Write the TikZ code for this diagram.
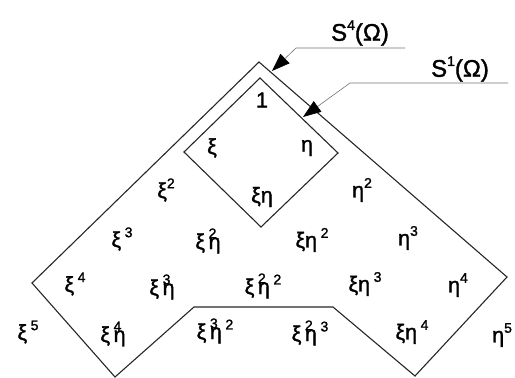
\documentclass[tikz,border=0pt]{standalone}
\usepackage{fontspec}
\setmainfont[FakeBold=1.2]{Liberation Sans}
\newfontfamily\lblfont[FakeBold=1.5]{Liberation Sans}
\usetikzlibrary{arrows.meta}
\newcommand\ssup[1]{\raisebox{0.85ex}{\fontsize{14}{14}\selectfont #1}}
\newcommand\osup[1]{\rlap{\raisebox{0.95ex}{\fontsize{14}{14}\selectfont #1}}}
\begin{document}
\begin{tikzpicture}[x=1pt,y=-1pt,
  lbl/.style={inner sep=0pt, font=\lblfont\fontsize{21.5}{21.5}\selectfont},
  slbl/.style={inner sep=0pt, font=\lblfont\fontsize{24}{24}\selectfont},
  outline/.style={line width=1.1pt, draw=black!85, line join=miter},
  leader/.style={line width=0.6pt, draw=black!55},
  tip/.style={-{Triangle[length=18pt,width=13pt,color=black]}}]
\useasboundingbox (0,0) rectangle (515,378);
% outer region S^4
\draw[outline] (259,62) -- (32,283) -- (115,377) -- (194,307) -- (333,307) -- (415,376) -- (507,277) -- cycle;
% inner diamond S^1
\draw[outline] (260,78) -- (184,152) -- (261,227) -- (338,153) -- cycle;
% leaders
\coordinate (a4) at (405,48);
\coordinate (b4) at (296,48);
\coordinate (t4) at (272,71);
\draw[leader,tip] (a4) -- (b4) -- (t4);
\coordinate (a1) at (508,83);
\coordinate (b1) at (350,83);
\coordinate (t1) at (303,117);
\draw[leader,tip] (a1) -- (b1) -- (t1);
\node[slbl] (s4) at (360,33) {S\ssup{4}(Ω)};
\node[slbl] (s1) at (460,69) {S\ssup{1}(Ω)};
% monomials
\node[lbl] (m1) at (262,100) {1};
\node[lbl] (mx) at (212,148) {ξ};
\node[lbl] (my) at (307,148) {η};
\node[lbl] (mxy) at (262,197) {ξη};
\node[lbl] (mx2) at (166,190) {ξ\ssup{2}};
\node[lbl] (my2) at (362,190) {η\ssup{2}};
\node[lbl] (mx3) at (122,239) {ξ\,\ssup{3}};
\node[lbl] (mx2y) at (208,241) {ξ\,\osup{2}η};
\node[lbl] (mxy2) at (312,240) {ξη\,\ssup{2}};
\node[lbl] (my3) at (408,238) {η\ssup{3}};
\node[lbl] (mx4) at (75,284) {ξ\,\ssup{4}};
\node[lbl] (mx3y) at (162,287) {ξ\,\osup{3}η};
\node[lbl] (mx2y2) at (263,286) {ξ\,\osup{2}η\,\ssup{2}};
\node[lbl] (mxy3) at (365,284) {ξη\,\ssup{3}};
\node[lbl] (my4) at (458,285) {η\ssup{4}};
\node[lbl] (mx5) at (28,332) {ξ\,\ssup{5}};
\node[lbl] (mx4y) at (113,334) {ξ\,\osup{4}η};
\node[lbl] (mx3y2) at (215,331) {ξ\,\osup{3}η\,\ssup{2}};
\node[lbl] (mx2y3) at (310,333) {ξ\,\osup{2}η\,\ssup{3}};
\node[lbl] (mxy4) at (412,332) {ξη\,\ssup{4}};
\node[lbl,anchor=west] (my5) at (492,335) {η\ssup{5}};
\end{tikzpicture}
\end{document}
